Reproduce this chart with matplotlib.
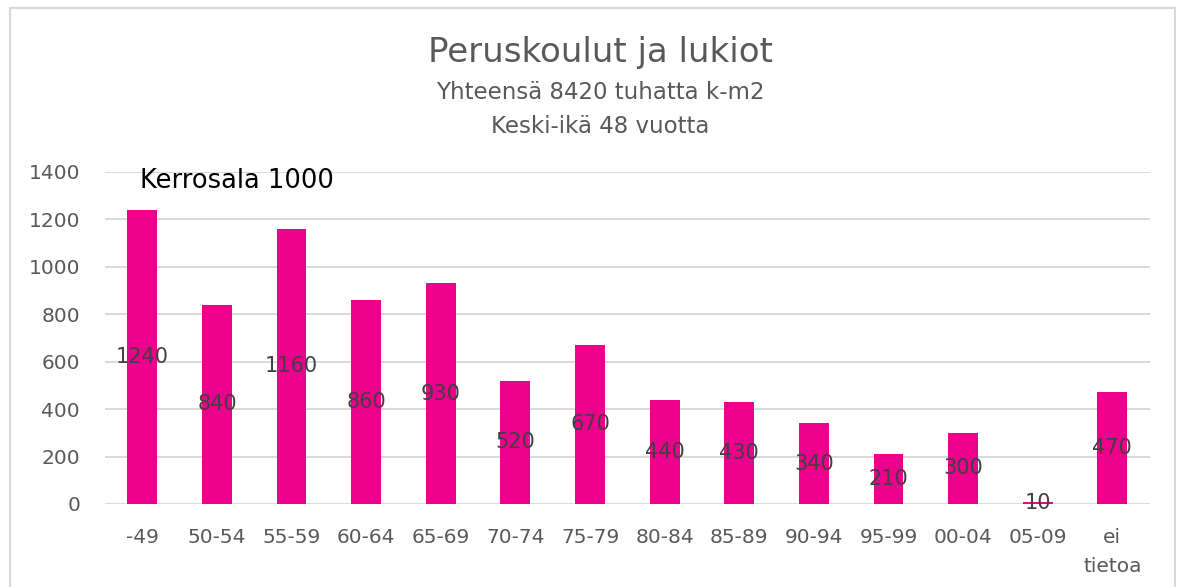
import matplotlib.pyplot as plt
import matplotlib.patches as mpatches

# data
categories = ['-49', '50-54', '55-59', '60-64', '65-69', '70-74', '75-79',
              '80-84', '85-89', '90-94', '95-99', '00-04', '05-09', 'ei\ntietoa']
values = [1240, 840, 1160, 860, 930, 520, 670, 440, 430, 340, 210, 300, 10, 470]
yticks = [0, 200, 400, 600, 800, 1000, 1200, 1400]

title = 'Peruskoulut ja lukiot'
subtitle = 'Yhteensä 8420 tuhatta k-m2\nKeski-ikä 48 vuotta'
note = 'Kerrosala 1000'

BAR_COLOR = '#EC008C'
GRID_COLOR = '#D9D9D9'
TEXT_GRAY = '#595959'

plt.rcParams['font.family'] = ['DejaVu Sans']

fig = plt.figure(figsize=(11.84, 5.87), dpi=100)
ax = fig.add_axes([0.0887, 0.1414, 0.8823, 0.566])

x = list(range(len(categories)))
bars = ax.bar(x, values, width=0.4, color=BAR_COLOR, zorder=2)

# data labels centred in the bars
for xi, v in zip(x, values):
    ax.text(xi, v / 2, str(v), ha='center', va='center',
            fontsize=15, color='#404040', zorder=3)

ax.set_xlim(-0.5, len(categories) - 0.5)
ax.set_ylim(0, 1400)
ax.set_yticks(yticks)
ax.set_xticks(x)
ax.set_xticklabels(categories, fontsize=14.5, color=TEXT_GRAY, linespacing=1.7, va='top')
ax.tick_params(axis='y', labelsize=14.5, labelcolor=TEXT_GRAY, length=0, pad=18)
ax.tick_params(axis='x', length=0, pad=17)

ax.grid(axis='y', color=GRID_COLOR, linewidth=1.4, zorder=0)
ax.set_axisbelow(True)
for s in ax.spines.values():
    s.set_visible(False)

fig.text(0.507, 0.91, title, ha='center', va='center', fontsize=24.5, color=TEXT_GRAY)
fig.text(0.507, 0.813, subtitle, ha='center', va='center', fontsize=16.5,
         color=TEXT_GRAY, linespacing=1.6)
ax.text(-0.03, 1360, note, ha='left', va='center', fontsize=18.5, color='black')

# light border round the chart
fig.patches.append(mpatches.Rectangle((10 / 1184, -0.01), 1165 / 1184, 0.997,
                                      transform=fig.transFigure, fill=False,
                                      edgecolor=GRID_COLOR, linewidth=1.5))

fig.savefig('out.png', dpi=100)
